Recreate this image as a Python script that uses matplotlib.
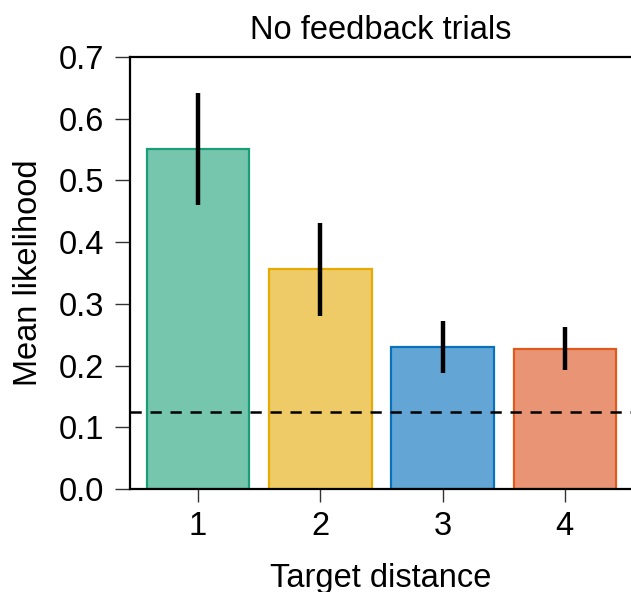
import matplotlib
matplotlib.use("Agg")
import matplotlib.pyplot as plt
import numpy as np

plt.rcParams['font.family'] = ['Liberation Sans', 'DejaVu Sans']

categories = ["1", "2", "3", "4"]
means = [0.551, 0.356, 0.230, 0.227]
lower = [0.460, 0.280, 0.188, 0.193]
upper = [0.642, 0.431, 0.272, 0.262]
chance = 0.125
fill_colors = ["#76c5ad", "#eecb66", "#63a6d6", "#e99575"]
edge_colors = ["#1b9e77", "#e6ab02", "#0a72bd", "#df5a1c"]
yticks = [0.0, 0.1, 0.2, 0.3, 0.4, 0.5, 0.6, 0.7]

W, H = 631, 592
fig = plt.figure(figsize=(W / 100, H / 100), dpi=100)
ax = fig.add_axes([130 / W, 1 - 489 / H, (W - 130) / W, (489 - 57) / H])

x = np.arange(1, len(categories) + 1)
ax.bar(x, means, width=0.84, color=fill_colors, edgecolor=edge_colors, linewidth=1.6, zorder=2)
ax.vlines(x, lower, upper, color="black", linewidth=3.2, zorder=3)
ax.axhline(chance, color="black", linestyle=(0, (4.5, 3.5)), linewidth=1.8, zorder=4)

ax.set_xlim(0.443, 4.541)
ax.set_ylim(0, 0.7)
ax.set_xticks(x)
ax.set_xticklabels(categories)
ax.set_yticks(yticks)
ax.set_yticklabels([f"{v:.1f}" for v in yticks])

for s in ["left", "bottom", "top"]:
    ax.spines[s].set_linewidth(1.6)
ax.spines["right"].set_visible(False)

FS = 23.5
ax.tick_params(axis="both", labelsize=FS, direction="out", width=1.0, color="#333333")
ax.tick_params(axis="y", length=10.5, pad=8)
ax.tick_params(axis="x", length=9, pad=7)

ax.set_title("No feedback trials", fontsize=FS, pad=13)
ax.set_xlabel("Target distance", fontsize=FS, labelpad=15)
ax.set_ylabel("Mean likelihood", fontsize=FS, labelpad=11)

fig.savefig("out.png", dpi=100)
